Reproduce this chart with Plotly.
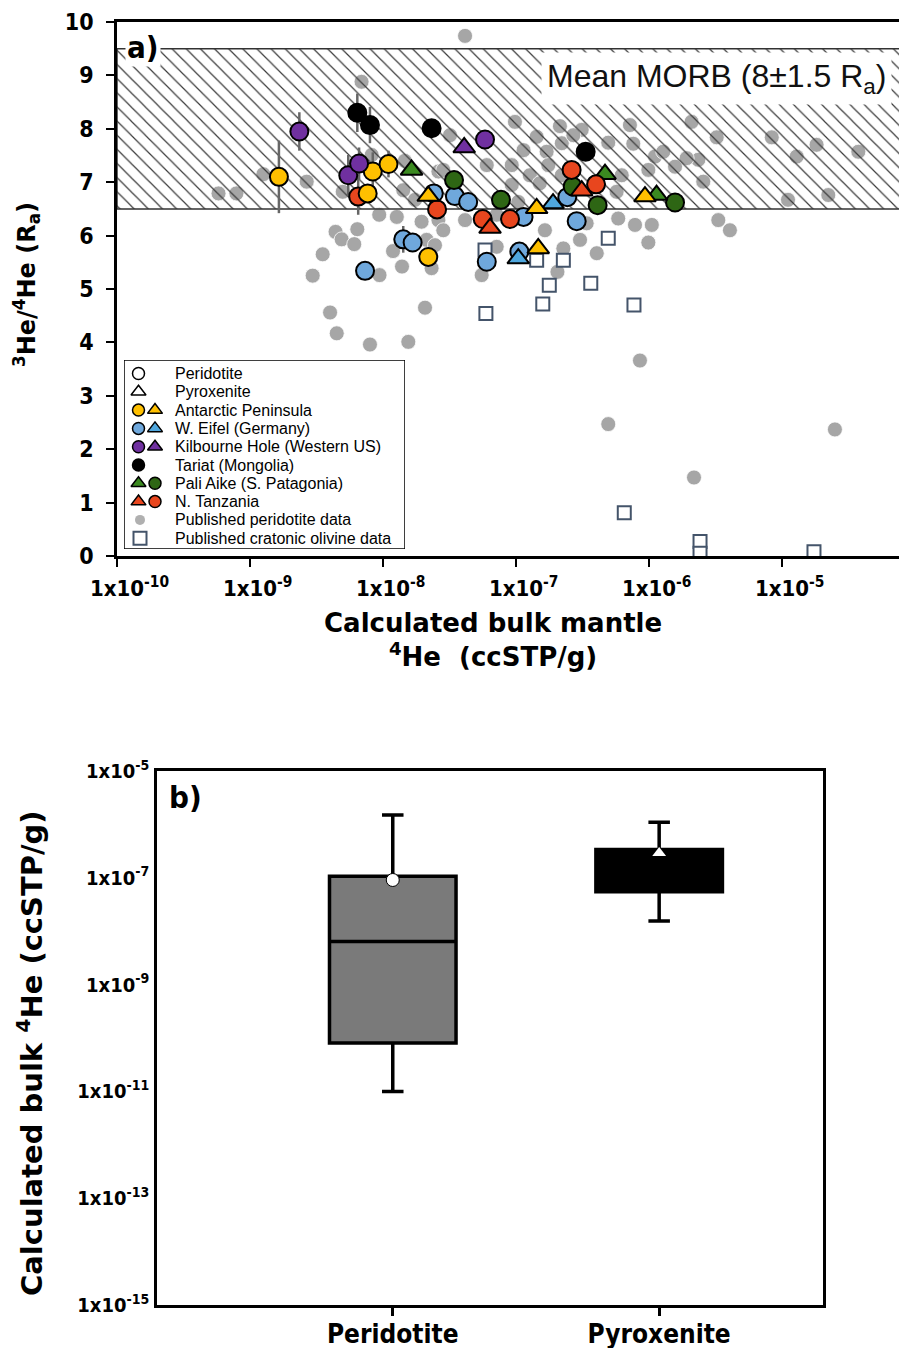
import plotly.graph_objects as go

W, H = 907, 1348
PAGE_MARGIN = 8          # default <body> margin of the written page
FW, FH = W - PAGE_MARGIN, H - PAGE_MARGIN

# ---------------- Panel a data ----------------
# Published peridotite data (gray)
gray_he = [5.8e-10, 7.9e-10, 1.26e-9, 2.67e-9, 6.9e-9, 4.14e-8, 4.40e-9, 4.89e-9, 6.41e-9, 6.08e-9,
           3.52e-9, 2.96e-9, 9.42e-9, 1.19e-8, 1.39e-8, 1.27e-8, 9.37e-9, 4.00e-9, 4.49e-9, 7.98e-9,
           1.55e-8, 8.22e-9, 1.46e-8, 1.42e-8, 1.95e-8, 1.74e-8, 2.13e-8, 2.32e-8, 2.61e-8, 2.61e-8,
           2.07e-8, 9.82e-8, 1.43e-7, 2.14e-7, 3.12e-7, 1.14e-7, 1.70e-7, 2.21e-7, 4.94e-7, 7.19e-7,
           6.03e-8, 9.29e-8, 1.27e-7, 1.75e-7, 9.29e-8, 1.51e-7, 1.04e-7, 2.21e-7, 6.24e-7, 5.71e-7,
           2.84e-8, 3.19e-8, 2.84e-8, 4.14e-8, 7.16e-8, 7.16e-8, 5.52e-8, 1.65e-7, 2.27e-7, 2.05e-7,
           4.05e-7, 3.40e-7, 5.87e-7, 2.46e-8, 7.85e-7, 2.09e-6, 3.23e-6, 8.38e-6, 1.82e-5, 3.75e-5,
           1.29e-5, 7.62e-7, 1.11e-6, 1.28e-6, 1.57e-6, 2.35e-6, 1.92e-6, 9.89e-7, 2.56e-6, 1.11e-5,
           2.23e-5, 1.05e-6, 3.32e-6, 4.06e-6, 9.89e-7, 8.55e-7, 4.94e-7, 2.18e-6, 2.50e-5, 3.03e-7,
           4.98e-9, 2.70e-7]
gray_ra = [6.79, 6.79, 7.15, 7.01, 8.88, 9.74, 6.07, 5.93, 6.12, 5.84,
           5.65, 5.25, 5.26, 5.71, 5.42, 6.35, 6.39, 4.56, 4.17, 3.96,
           4.01, 7.51, 7.40, 6.85, 6.26, 6.67, 5.92, 5.39, 7.20, 6.29,
           4.65, 8.13, 7.85, 8.05, 7.98, 7.60, 7.57, 7.73, 7.74, 8.07,
           7.32, 7.32, 7.13, 7.32, 6.95, 6.98, 6.63, 7.13, 7.13, 6.82,
           7.23, 7.88, 6.10, 6.29, 6.39, 5.79, 5.26, 6.10, 5.76, 5.32,
           5.67, 6.23, 6.32, 5.82, 6.20, 8.13, 7.84, 7.84, 7.70, 7.57,
           7.48, 7.72, 7.48, 7.57, 7.29, 7.42, 7.45, 7.23, 7.01, 6.67,
           6.76, 6.20, 6.29, 6.10, 5.87, 3.66, 2.47, 1.47, 2.37, 5.92,
           6.82, 7.88]

# Published cratonic olivine data (open squares)
olivine_he = [5.94e-8, 1.59e-7, 3.65e-7, 1.78e-7, 7.71e-7, 4.94e-7, 5.85e-8, 1.43e-7, 2.27e-7,
              6.52e-7, 2.42e-6, 2.42e-6, 1.74e-5]
olivine_ra = [4.54, 4.72, 5.11, 5.07, 4.70, 5.95, 5.73, 5.54, 5.54, 0.81, 0.27, 0.05, 0.08]

# This study - peridotite (circles) and pyroxenite (triangles)
ant_per_he = [1.65e-9, 8.38e-9, 1.10e-8, 7.67e-9, 2.19e-8]
ant_per_ra = [7.10, 7.20, 7.34, 6.79, 5.60]
ant_pyx_he = [2.19e-8, 1.43e-7, 1.47e-7, 9.33e-7]
ant_pyx_ra = [6.74, 6.51, 5.76, 6.73]

eif_per_he = [7.33e-9, 1.42e-8, 1.67e-8, 2.41e-8, 3.47e-8, 4.37e-8, 1.14e-7, 6.03e-8, 1.06e-7, 2.43e-7, 2.86e-7]
eif_per_ra = [5.34, 5.93, 5.87, 6.79, 6.74, 6.63, 6.35, 5.51, 5.70, 6.72, 6.27]
eif_pyx_he = [1.90e-7, 1.04e-7]
eif_pyx_ra = [6.60, 5.57]

kil_per_he = [2.35e-9, 5.48e-9, 6.61e-9, 5.85e-8]
kil_per_ra = [7.95, 7.13, 7.35, 7.80]
kil_pyx_he = [4.08e-8]
kil_pyx_ra = [7.65]

tar_per_he = [6.41e-9, 7.98e-9, 2.32e-8, 3.34e-7]
tar_per_ra = [8.30, 8.07, 8.01, 7.57]

pal_per_he = [3.42e-8, 7.71e-8, 2.67e-7, 4.11e-7, 1.57e-6]
pal_per_ra = [7.04, 6.67, 6.92, 6.57, 6.62]
pal_pyx_he = [1.64e-8, 4.67e-7, 1.14e-6]
pal_pyx_ra = [7.23, 7.15, 6.76]

tan_per_he = [6.51e-9, 2.55e-8, 5.62e-8, 9.02e-8, 2.62e-7, 4.00e-7]
tan_per_ra = [6.73, 6.49, 6.31, 6.31, 7.23, 6.96]
tan_pyx_he = [6.38e-8, 3.12e-7]
tan_pyx_ra = [6.14, 6.84]

# Error bars (1 sigma on 3He/4He)
err_he = [1.65e-9, 2.35e-9, 6.41e-9, 7.98e-9, 5.48e-9, 6.61e-9, 6.51e-9, 8.38e-9, 1.10e-8, 1.42e-8]
err_ra = [7.10, 7.95, 8.30, 8.07, 7.13, 7.35, 6.73, 7.20, 7.34, 5.93]
err_sd = [0.68, 0.36, 0.36, 0.34, 0.38, 0.30, 0.34, 0.36, 0.25, 0.25]

MORB_MEAN, MORB_SD = 8.0, 1.5

x_tick_exp = [-10, -9, -8, -7, -6, -5]
y_ticks_a = list(range(0, 11))

# ---------------- Panel b data ----------------
box_cats = ["Peridotite", "Pyroxenite"]
box_lower = [1.0e-11, 1.55e-8]
box_q1 = [8.1e-11, 5.5e-8]
box_median = [6.4e-9, 1.5e-7]
box_q3 = [1.07e-7, 3.4e-7]
box_upper = [1.5e-6, 1.1e-6]
box_mean = [9.1e-8, 2.9e-7]
y_tick_exp_b = [-15, -13, -11, -9, -7, -5]

# ---------------- styling ----------------
C_YEL = "#FFC000"
C_BLU = "#6FA8DC"
C_BLU_T = "#4FA7DE"
C_PUR = "#7030A0"
C_BLK = "#000000"
C_GRN = "#2E6614"
C_GRN_T = "#3B8A20"
C_RED = "#E8461E"
C_GRAY = "#A6A6A6"
C_SQ = "#44546A"

COND = "DejaVu Sans Condensed, Liberation Sans Narrow, Arial Narrow, sans-serif"
BOLD = "DejaVu Sans, Verdana, sans-serif"
ARIAL = "Liberation Sans, Arial, sans-serif"

X_LOG_RANGE = [-10.0, -4.06]


def px(x):
    """screen pixel x -> paper fraction"""
    return (x - PAGE_MARGIN) / FW


def py(y):
    """screen pixel y -> paper fraction"""
    return 1 - (y - PAGE_MARGIN) / FH


fig = go.Figure()

# gray published peridotite
fig.add_trace(go.Scatter(x=gray_he, y=gray_ra, mode="markers", xaxis="x", yaxis="y",
                         marker=dict(size=15, color=C_GRAY, line=dict(color="white", width=0.8)),
                         showlegend=False, hoverinfo="skip"))
# cratonic olivine
fig.add_trace(go.Scatter(x=olivine_he, y=olivine_ra, mode="markers", xaxis="x", yaxis="y",
                         marker=dict(size=13, symbol="square", color="white", line=dict(color=C_SQ, width=2)),
                         showlegend=False, hoverinfo="skip"))
# MORB hatched band
x0, x1 = 10 ** X_LOG_RANGE[0], 10 ** X_LOG_RANGE[1]
lo, hi = MORB_MEAN - MORB_SD, MORB_MEAN + MORB_SD
fig.add_trace(go.Scatter(x=[x0, x1, x1, x0, x0], y=[lo, lo, hi, hi, lo], mode="lines",
                         xaxis="x", yaxis="y", fill="toself", fillcolor="rgba(0,0,0,0)",
                         fillpattern=dict(shape="\\", size=10, solidity=0.12, fgcolor="#3a3a3a",
                                          bgcolor="rgba(0,0,0,0)", fillmode="replace"),
                         line=dict(color="#333333", width=1.5),
                         showlegend=False, hoverinfo="skip"))
# error bars
fig.add_trace(go.Scatter(x=err_he, y=err_ra, mode="markers", xaxis="x", yaxis="y",
                         marker=dict(size=1, color="rgba(0,0,0,0)"),
                         error_y=dict(type="data", array=err_sd, visible=True, color="#666666",
                                      thickness=2.5, width=0),
                         showlegend=False, hoverinfo="skip"))


def add_pts(xs, ys, color, symbol):
    if symbol == "circle":
        mk = dict(size=18, color=color, symbol="circle", line=dict(color="black", width=2))
    else:
        mk = dict(size=19, color=color, symbol="triangle-up", line=dict(color="black", width=2))
    fig.add_trace(go.Scatter(x=xs, y=ys, mode="markers", xaxis="x", yaxis="y", marker=mk,
                             showlegend=False, hoverinfo="skip"))


add_pts(eif_per_he, eif_per_ra, C_BLU, "circle")
add_pts(eif_pyx_he, eif_pyx_ra, C_BLU_T, "triangle")
add_pts(pal_per_he, pal_per_ra, C_GRN, "circle")
add_pts(pal_pyx_he, pal_pyx_ra, C_GRN_T, "triangle")
add_pts(tan_per_he, tan_per_ra, C_RED, "circle")
add_pts(tan_pyx_he, tan_pyx_ra, C_RED, "triangle")
add_pts(ant_per_he, ant_per_ra, C_YEL, "circle")
add_pts(ant_pyx_he, ant_pyx_ra, C_YEL, "triangle")
add_pts(kil_per_he, kil_per_ra, C_PUR, "circle")
add_pts(kil_pyx_he, kil_pyx_ra, C_PUR, "triangle")
add_pts(tar_per_he, tar_per_ra, C_BLK, "circle")

# ---------------- legend (drawn on hidden axis x3/y3, in screen-pixel units) ----------------
LEG_L, LEG_R, LEG_T, LEG_B = 124, 405, 360, 549
leg_labels = ["Peridotite", "Pyroxenite", "Antarctic Peninsula", "W. Eifel (Germany)",
              "Kilbourne Hole (Western US)", "Tariat (Mongolia)", "Pali Aike (S. Patagonia)",
              "N. Tanzania", "Published peridotite data", "Published cratonic olivine data"]
rows = [373.5 + 18.3 * i for i in range(len(leg_labels))]
C1, C2 = 138.5, 155
leg_syms = [
    [(C1, "circle", "white")],
    [(C1, "triangle-up", "white")],
    [(C1, "circle", C_YEL), (C2, "triangle-up", C_YEL)],
    [(C1, "circle", C_BLU), (C2, "triangle-up", C_BLU_T)],
    [(C1, "circle", C_PUR), (C2, "triangle-up", C_PUR)],
    [(C1, "circle", C_BLK)],
    [(C1, "triangle-up", C_GRN_T), (C2, "circle", C_GRN)],
    [(C1, "triangle-up", C_RED), (C2, "circle", C_RED)],
]
for r, syms in zip(rows, leg_syms):
    for cx, sym, col in syms:
        fig.add_trace(go.Scatter(x=[cx], y=[r], mode="markers", xaxis="x3", yaxis="y3",
                                 marker=dict(size=12 if sym == "circle" else 13, symbol=sym, color=col,
                                             line=dict(color="black", width=1.5)),
                                 showlegend=False, hoverinfo="skip"))
fig.add_trace(go.Scatter(x=[C1 + 1.5], y=[rows[8]], mode="markers", xaxis="x3", yaxis="y3",
                         marker=dict(size=10, color="#B0B0B0"), showlegend=False, hoverinfo="skip"))
fig.add_trace(go.Scatter(x=[C1 + 1.5], y=[rows[9]], mode="markers", xaxis="x3", yaxis="y3",
                         marker=dict(size=13, symbol="square", color="white", line=dict(color=C_SQ, width=2)),
                         showlegend=False, hoverinfo="skip"))

# ---------------- Panel b ----------------
fills = ["#7A7A7A", "#000000"]
for i, cat in enumerate(box_cats):
    fig.add_trace(go.Box(x=[cat], q1=[box_q1[i]], median=[box_median[i]], q3=[box_q3[i]],
                         lowerfence=[box_lower[i]], upperfence=[box_upper[i]],
                         xaxis="x2", yaxis="y2", fillcolor=fills[i],
                         line=dict(color="black", width=3.5), whiskerwidth=0.17, width=0.475,
                         boxpoints=False, showlegend=False, hoverinfo="skip"))
fig.add_trace(go.Scatter(x=[box_cats[0]], y=[box_mean[0]], mode="markers", xaxis="x2", yaxis="y2",
                         marker=dict(size=13, color="white", line=dict(color="black", width=1)),
                         showlegend=False, hoverinfo="skip"))
fig.add_trace(go.Scatter(x=[box_cats[1]], y=[box_mean[1]], mode="markers", xaxis="x2", yaxis="y2",
                         marker=dict(size=12, symbol="triangle-up", color="white", line=dict(width=0)),
                         showlegend=False, hoverinfo="skip"))


def center_label(e):
    return f"<b><sup style='color:rgba(0,0,0,0)'>{e}</sup>1x10<sup>{e}</sup></b>"


fig.update_layout(
    width=FW, height=FH, margin=dict(l=0, r=0, t=0, b=0),
    paper_bgcolor="white", plot_bgcolor="rgba(0,0,0,0)", showlegend=False,
    xaxis=dict(domain=[px(117), 1.0], type="log", range=X_LOG_RANGE, anchor="y",
               showline=True, linecolor="black", linewidth=2.5, mirror=True,
               ticks="outside", ticklen=8, tickwidth=2, tickcolor="black",
               tickvals=[10.0 ** e for e in x_tick_exp], ticktext=[center_label(e) for e in x_tick_exp],
               tickfont=dict(family=COND, size=22, color="black"), ticklabelstandoff=3,
               showgrid=False, zeroline=False, automargin=False),
    yaxis=dict(domain=[py(556), py(22)], range=[0, 10], anchor="x",
               showline=True, linecolor="black", linewidth=2.5, mirror=False,
               ticks="outside", ticklen=8, tickwidth=2, tickcolor="black",
               tickvals=y_ticks_a, ticktext=[f"<b>{v}</b>" for v in y_ticks_a],
               tickfont=dict(family=COND, size=23, color="black"), ticklabelstandoff=8,
               showgrid=False, zeroline=False, automargin=False),
    xaxis2=dict(domain=[px(157), px(823)], type="category", range=[-0.885, 1.615], anchor="y2",
                showline=True, linecolor="black", linewidth=2.5, mirror=True,
                ticks="outside", ticklen=8, tickwidth=2.5, tickcolor="black",
                tickvals=box_cats, ticktext=[f"<b>{c}</b>" for c in box_cats],
                tickfont=dict(family=COND, size=26, color="black"), ticklabelstandoff=-4,
                showgrid=False, zeroline=False, automargin=False),
    yaxis2=dict(domain=[py(1305), py(771)], type="log", range=[-15, -5], anchor="x2",
                showline=True, linecolor="black", linewidth=2.5, mirror=True,
                ticks="", tickvals=[10.0 ** e for e in y_tick_exp_b],
                ticktext=[f"<b>1x10<sup>{e}</sup></b>" for e in y_tick_exp_b],
                tickfont=dict(family=COND, size=20, color="black"), ticklabelstandoff=1,
                showgrid=False, zeroline=False, automargin=False),
    xaxis3=dict(domain=[px(LEG_L), px(LEG_R)], range=[LEG_L, LEG_R], anchor="y3", visible=False),
    yaxis3=dict(domain=[py(LEG_B), py(LEG_T)], range=[LEG_B, LEG_T], anchor="x3", visible=False),
)

shapes = [dict(type="rect", xref="x3", yref="y3", x0=LEG_L, x1=LEG_R, y0=LEG_T, y1=LEG_B,
               line=dict(color="black", width=1.5), fillcolor="white", layer="below")]
fig.update_layout(shapes=shapes)

ann = []
for r, lab in zip(rows, leg_labels):
    ann.append(dict(x=173, y=r, xref="x3", yref="y3", text=lab, showarrow=False,
                    xanchor="left", yanchor="middle", font=dict(family=ARIAL, size=16, color="black")))
ann.append(dict(x=px(892), y=py(78), xref="paper", yref="paper", xanchor="right", yanchor="middle",
                text="Mean MORB (8\u00b11.5 R<sub>a</sub>)", showarrow=False, bgcolor="white", borderpad=5,
                font=dict(family=ARIAL, size=32, color="#111111")))
ann.append(dict(x=px(143), y=py(47), xref="paper", yref="paper", xanchor="center", yanchor="middle",
                text="<b>a)</b>", showarrow=False, bgcolor="white", borderpad=1,
                font=dict(family=COND, size=31, color="black")))
ann.append(dict(x=px(185), y=py(797), xref="paper", yref="paper", xanchor="center", yanchor="middle",
                text="<b>b)</b>", showarrow=False, font=dict(family=COND, size=31, color="black")))
ann.append(dict(x=px(493), y=py(640), xref="paper", yref="paper", xanchor="center", yanchor="middle",
                text="<b>Calculated bulk mantle<br><sup>4</sup>He\u00a0\u00a0(ccSTP/g)</b>", showarrow=False,
                font=dict(family=BOLD, size=26, color="black")))
ann.append(dict(x=px(27), y=py(285), xref="paper", yref="paper", xanchor="center", yanchor="middle",
                textangle=-90, text="<b><sup>3</sup>He/<sup>4</sup>He (R<sub>a</sub>)</b>", showarrow=False,
                font=dict(family=BOLD, size=24, color="black")))
ann.append(dict(x=px(30), y=py(1053), xref="paper", yref="paper", xanchor="center", yanchor="middle",
                textangle=-90, text="<b>Calculated bulk <sup>4</sup>He (ccSTP/g)</b>", showarrow=False,
                font=dict(family=BOLD, size=29, color="black")))
fig.update_layout(annotations=ann)

fig.write_html("out.html")
